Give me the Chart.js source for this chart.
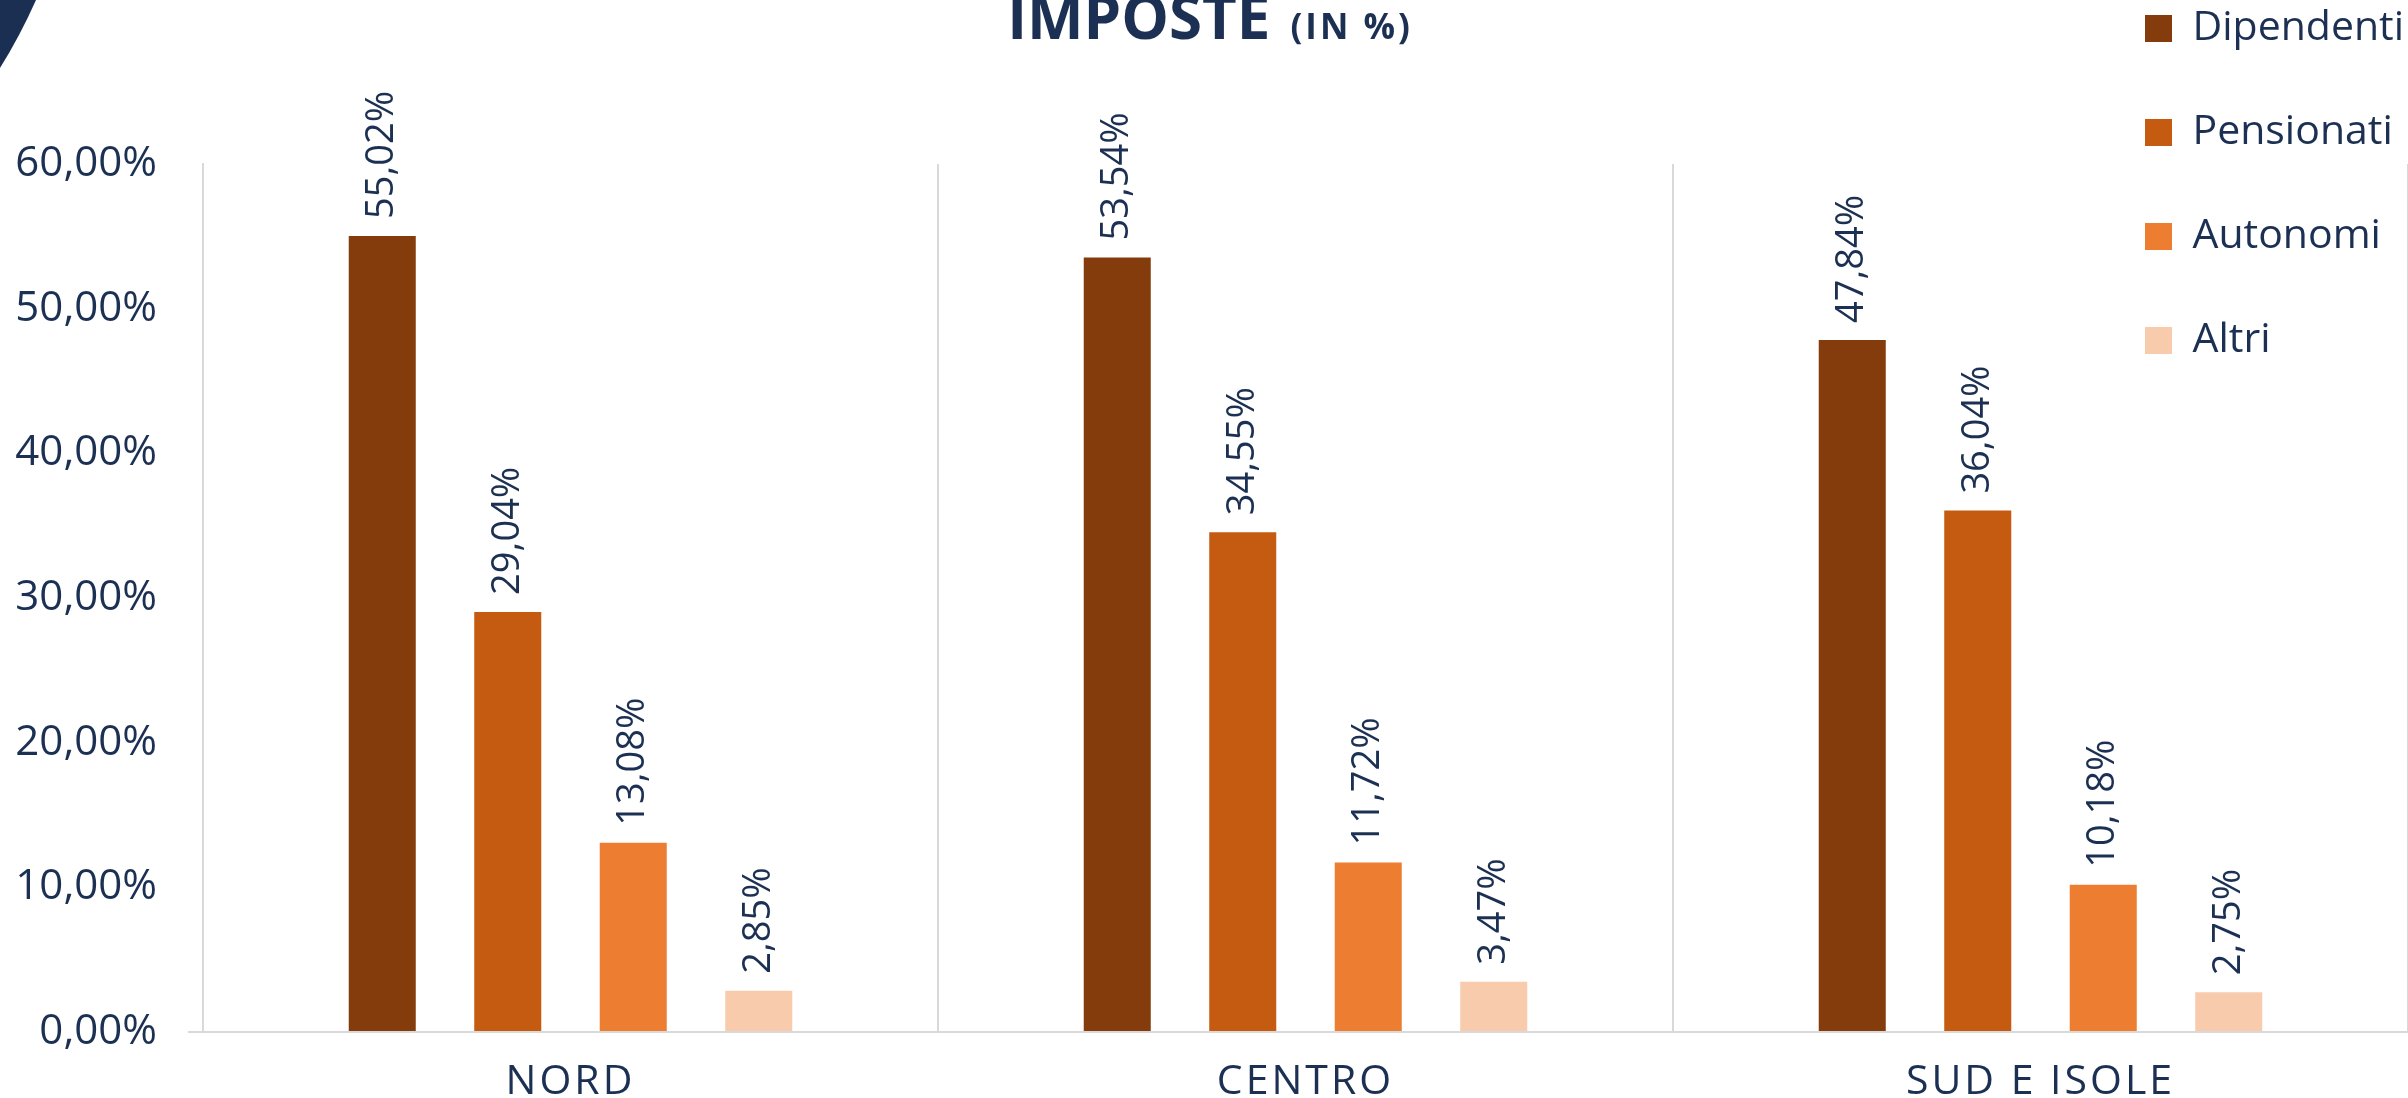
<!DOCTYPE html>
<html>
<head>
<meta charset="utf-8">
<script src="https://cdn.jsdelivr.net/npm/chart.js@4.4.1/dist/chart.umd.min.js"></script>
<style>
html, body { margin: 0; padding: 0; background: #fff; overflow: hidden; }
#wrap { position: relative; width: 2408px; height: 1098px; }
</style>
</head>
<body>
<div id="wrap"><canvas id="impChart"></canvas></div>
<script>
const regions = ['NORD', 'CENTRO', 'SUD E ISOLE'];
const seriesNames = ['Dipendenti', 'Pensionati', 'Autonomi', 'Altri'];
const dipendenti = [55.02, 53.54, 47.84];
const pensionati = [29.04, 34.55, 36.04];
const autonomi = [13.08, 11.72, 10.18];
const altri = [2.85, 3.47, 2.75];
const seriesColors = ['#843c0c', '#c55a11', '#ed7d31', '#f8cbad'];
const yMax = 60;
const yStep = 10;

const navy = '#1b3052';
const fontFamily = "'Open Sans', sans-serif";
Chart.defaults.font.family = fontFamily;
Chart.defaults.color = navy;

function pct(v) {
    return v.toFixed(2).replace('.', ',') + '%';
}

// little navy corner shape from the slide template
const cornerPlugin = {
    id: 'corner',
    beforeDraw(chart) {
        const ctx = chart.ctx;
        ctx.save();
        ctx.fillStyle = '#1b2f52';
        ctx.beginPath();
        ctx.moveTo(0, 0);
        ctx.lineTo(36, 0);
        ctx.quadraticCurveTo(20, 36, 0, 68);
        ctx.closePath();
        ctx.fill();
        ctx.restore();
    }
};

// move the legend to the top right corner, over the plot
const legendPlace = {
    id: 'legendPlace',
    afterLayout(chart) {
        const lg = chart.legend;
        if (!lg) return;
        const w = lg.width, h = lg.height;
        lg.left = 2082;
        lg.right = lg.left + w;
        lg.top = -55;
        lg.bottom = lg.top + h;
    }
};

const valueLabels = {
    id: 'valueLabels',
    afterDatasetsDraw(chart) {
        const ctx = chart.ctx;
        chart.data.datasets.forEach((ds, i) => {
            const meta = chart.getDatasetMeta(i);
            meta.data.forEach((bar, j) => {
                ctx.save();
                ctx.translate(bar.x, bar.y - 17);
                ctx.rotate(-Math.PI / 2);
                ctx.font = '38px ' + fontFamily;
                ctx.fillStyle = navy;
                ctx.textAlign = 'left';
                ctx.textBaseline = 'middle';
                ctx.fillText(pct(ds.data[j]), 0, 0);
                ctx.restore();
            });
        });
        // category labels are spaced out a little
        ctx.letterSpacing = '3px';
    },
    afterDraw(chart) {
        const ctx = chart.ctx;
        ctx.letterSpacing = '0px';
        ctx.save();
        ctx.fillStyle = navy;
        ctx.textBaseline = 'alphabetic';
        ctx.font = 'bold 60px ' + fontFamily;
        const big = 'IMPOSTE';
        const wBig = ctx.measureText(big).width;
        ctx.font = 'bold 35px ' + fontFamily;
        ctx.letterSpacing = '3px';
        const small = '(IN %)';
        const wSmall = ctx.measureText(small).width;
        const gap = 20;
        const x0 = 1210 - (wBig + gap + wSmall) / 2;
        ctx.letterSpacing = '0px';
        ctx.font = 'bold 60px ' + fontFamily;
        ctx.fillText(big, x0, 39);
        ctx.font = 'bold 35px ' + fontFamily;
        ctx.letterSpacing = '3px';
        ctx.fillText(small, x0 + wBig + gap, 39);
        ctx.restore();
        ctx.letterSpacing = '0px';
    }
};

const ctx = document.getElementById('impChart').getContext('2d');
const impChart = new Chart(ctx, {
    type: 'bar',
    data: {
        labels: regions,
        datasets: [dipendenti, pensionati, autonomi, altri].map((vals, i) => ({
            label: seriesNames[i],
            data: vals,
            backgroundColor: seriesColors[i],
            borderWidth: 0,
            categoryPercentage: 0.683,
            barPercentage: 0.534
        }))
    },
    options: {
        responsive: true,
        maintainAspectRatio: false,
        animation: false,
        devicePixelRatio: 1,
        layout: { padding: { top: 164, left: 0, right: 0, bottom: 0 } },
        scales: {
            x: {
                afterFit(s) { s.height = 66; },
                grid: { display: true, offset: true, drawTicks: false, color: '#d9d9d9', lineWidth: 2 },
                border: { display: true, color: '#d9d9d9', width: 2 },
                ticks: { padding: 30, color: navy, font: { size: 41, lineHeight: 1 }, z: 1 }
            },
            y: {
                min: 0,
                max: yMax,
                afterFit(s) { s.width = 203; },
                grid: {
                    display: true,
                    drawOnChartArea: false,
                    drawTicks: true,
                    tickLength: 15,
                    lineWidth: 2,
                    color: (c) => (c.tick && c.tick.value === 0 ? '#d9d9d9' : 'rgba(0,0,0,0)')
                },
                border: { display: true, color: '#d9d9d9', width: 2 },
                ticks: {
                    stepSize: yStep,
                    padding: 31,
                    color: navy,
                    font: { size: 42 },
                    callback: (v) => pct(v)
                }
            }
        },
        plugins: {
            title: { display: false },
            tooltip: { enabled: false },
            legend: {
                position: 'chartArea',
                align: 'start',
                labels: {
                    boxWidth: 27,
                    boxHeight: 27,
                    padding: 63,
                    color: navy,
                    font: { size: 41 }
                }
            }
        }
    },
    plugins: [cornerPlugin, legendPlace, valueLabels]
});
</script>
</body>
</html>
